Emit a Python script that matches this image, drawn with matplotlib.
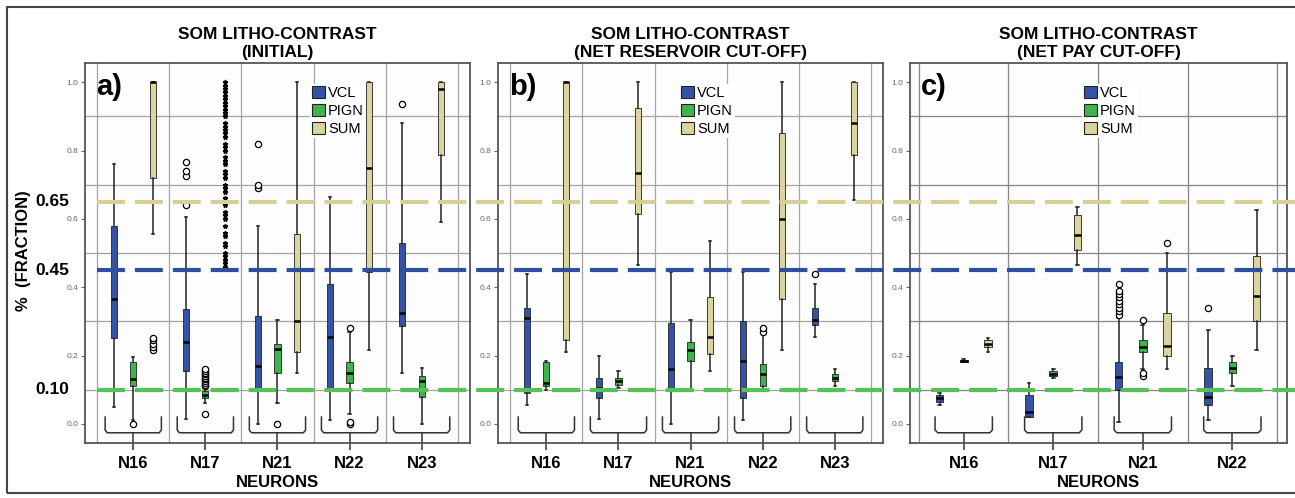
import matplotlib
matplotlib.use("Agg")
from matplotlib import pyplot as plt
from matplotlib import transforms
from matplotlib.lines import Line2D
from matplotlib.patches import Patch, Rectangle

plt.rcParams['font.family'] = 'Liberation Sans'

# --------------- datos leidos de la figura
# cada caja: [bigote bajo, q1, mediana, q3, bigote alto]

neuronas_ab = ["N16", "N17", "N21", "N22", "N23"]
neuronas_c = ["N16", "N17", "N21", "N22"]

titulos = ["SOM LITHO-CONTRAST\n(INITIAL)",
           "SOM LITHO-CONTRAST\n(NET RESERVOIR CUT-OFF)",
           "SOM LITHO-CONTRAST\n(NET PAY CUT-OFF)"]
letras = ["a)", "b)", "c)"]
variables = ["VCL", "PIGN", "SUM"]

# a) inicial
a_vcl = [[0.05, 0.25, 0.365, 0.58, 0.76], [0.015, 0.155, 0.24, 0.335, 0.605],
         [0.0, 0.10, 0.17, 0.315, 0.58], [0.01, 0.10, 0.255, 0.41, 0.665],
         [0.15, 0.285, 0.325, 0.53, 0.88]]
a_vcl_out = [[], [0.64, 0.725, 0.74, 0.765], [0.69, 0.70, 0.82], [], [0.935]]
a_pign = [[0.01, 0.11, 0.13, 0.18, 0.195], [0.06, 0.075, 0.085, 0.095, 0.105],
          [0.06, 0.15, 0.22, 0.235, 0.305], [0.03, 0.12, 0.15, 0.18, 0.27],
          [0.0, 0.08, 0.125, 0.14, 0.165]]
a_pign_out = [[0.0], [0.03, 0.11, 0.115, 0.12, 0.125, 0.13, 0.135, 0.14, 0.145, 0.15, 0.155, 0.16],
              [0.0], [0.0, 0.005, 0.28], []]
a_sum = [[0.555, 0.72, 1.0, 1.0, 1.0], None,
         [0.15, 0.21, 0.30, 0.555, 1.0], [0.215, 0.445, 0.75, 1.0, 1.0],
         [0.59, 0.787, 0.98, 1.0, 1.0]]
a_sum_out = [[0.215, 0.225, 0.235, 0.245, 0.25], [], [], [], []]
# N17 SUM en a) solo muestra valores extremos (asteriscos)
a_sum_n17 = [0.46, 0.47, 0.48, 0.49, 0.50, 0.52, 0.53, 0.55, 0.56, 0.58, 0.60, 0.61,
             0.62, 0.64, 0.65, 0.66, 0.68, 0.69, 0.70, 0.72, 0.73, 0.74, 0.76, 0.77,
             0.78, 0.80, 0.81, 0.82, 0.84, 0.85, 0.86, 0.87, 0.88, 0.90, 0.91, 0.92,
             0.93, 0.94, 0.95, 0.96, 0.97, 0.98, 0.99, 1.0]

# b) corte de reservorio
b_vcl = [[0.055, 0.09, 0.31, 0.34, 0.44], [0.015, 0.075, 0.105, 0.135, 0.20],
         [0.0, 0.10, 0.16, 0.295, 0.445], [0.01, 0.075, 0.185, 0.30, 0.445],
         [0.255, 0.29, 0.305, 0.34, 0.41]]
b_vcl_out = [[], [], [], [], [0.44]]
b_pign = [[0.10, 0.11, 0.12, 0.18, 0.185], [0.105, 0.115, 0.125, 0.135, 0.155],
          [0.10, 0.185, 0.215, 0.24, 0.305], [0.10, 0.11, 0.145, 0.175, 0.26],
          [0.11, 0.125, 0.135, 0.145, 0.16]]
b_pign_out = [[], [], [], [0.27, 0.28], []]
b_sum = [[0.21, 0.245, 1.0, 1.0, 1.0], [0.465, 0.615, 0.735, 0.925, 1.0],
         [0.155, 0.205, 0.255, 0.37, 0.535], [0.215, 0.365, 0.60, 0.85, 1.0],
         [0.655, 0.787, 0.88, 1.0, 1.0]]
b_sum_out = [[], [], [], [], []]

# c) corte de pay
c_vcl = [[0.055, 0.065, 0.075, 0.085, 0.09], [0.02, 0.02, 0.035, 0.085, 0.12],
         [0.005, 0.10, 0.137, 0.18, 0.31], [0.01, 0.055, 0.08, 0.165, 0.275]]
c_vcl_out = [[], [], [0.32, 0.33, 0.34, 0.35, 0.36, 0.37, 0.38, 0.39, 0.41], [0.34]]
c_pign = [[0.18, 0.182, 0.185, 0.188, 0.19], [0.135, 0.14, 0.145, 0.155, 0.16],
          [0.16, 0.21, 0.225, 0.245, 0.29], [0.11, 0.15, 0.165, 0.18, 0.20]]
c_pign_out = [[], [], [0.14, 0.15, 0.305], []]
c_sum = [[0.21, 0.225, 0.235, 0.245, 0.25], [0.465, 0.51, 0.553, 0.61, 0.635],
         [0.16, 0.20, 0.228, 0.325, 0.50], [0.215, 0.30, 0.375, 0.49, 0.625]]
c_sum_out = [[], [], [0.53], []]

# cortes (lineas punteadas)
cortes = [0.65, 0.45, 0.10]
cortes_txt = ["0.65", "0.45", "0.10"]

# --------------- estilo
colores = {"VCL": "#3453a6", "PIGN": "#3fb44c", "SUM": "#dad59e"}
colores_corte = ["#d8cf96", "#2f4ea0", "#55c157"]
desplaz = [-0.27, 0.0, 0.27]
ancho_llave = [0.39, 0.39, 0.32]
gris_grid = "#a8a2a2"

paneles = [
    (neuronas_ab, [a_vcl, a_pign, a_sum], [a_vcl_out, a_pign_out, a_sum_out]),
    (neuronas_ab, [b_vcl, b_pign, b_sum], [b_vcl_out, b_pign_out, b_sum_out]),
    (neuronas_c, [c_vcl, c_pign, c_sum], [c_vcl_out, c_pign_out, c_sum_out]),
]

fig = plt.figure(figsize=(12.95, 4.98), dpi=100, facecolor="white")

posiciones_ax = [[0.0656, 0.1104, 0.2973, 0.763],
                 [0.3846, 0.1104, 0.2973, 0.763],
                 [0.7027, 0.1104, 0.2911, 0.763]]
limites_x = [(-0.67, 4.67), (-0.67, 4.67), (-0.6, 3.61)]
legend_x = [0.584, 0.47, 0.456]

ejes = []
for i, (neuronas, cajas, extremos) in enumerate(paneles):
    ax = fig.add_axes(posiciones_ax[i])
    ax.set_facecolor("#fdfdfd")
    n = len(neuronas)
    for j, var in enumerate(variables):
        stats = []
        pos = []
        for k in range(n):
            c = cajas[j][k]
            if c is None:
                continue
            stats.append({"whislo": c[0], "q1": c[1], "med": c[2], "q3": c[3],
                          "whishi": c[4], "fliers": extremos[j][k]})
            pos.append(k + desplaz[j])
        ax.bxp(stats, positions=pos, widths=0.085, patch_artist=True,
               capwidths=0.03,
               boxprops=dict(facecolor=colores[var], edgecolor="#222222", linewidth=0.6),
               medianprops=dict(color="black", linewidth=1.8),
               whiskerprops=dict(color="#222222", linewidth=1.1),
               capprops=dict(color="#222222", linewidth=1.1),
               flierprops=dict(marker="o", markersize=4.5, markerfacecolor="white",
                               markeredgecolor="black", markeredgewidth=0.9),
               manage_ticks=False, zorder=3)
    if i == 0:
        ax.plot([1 + desplaz[2]] * len(a_sum_n17), a_sum_n17, linestyle="none",
                marker="*", markersize=3.5, color="black", zorder=4)

    # llaves debajo de cada neurona
    w = ancho_llave[i]
    for k in range(n):
        xs = [k - w, k - w, k - w + 0.03, k + w - 0.03, k + w, k + w]
        ys = [0.02, -0.018, -0.026, -0.026, -0.018, 0.02]
        ax.plot(xs, ys, color="#333333", linewidth=1.1, zorder=2)
        ax.plot([k, k], [-0.026, -0.056], color="#333333", linewidth=1.1, zorder=2,
                clip_on=False)

    ax.set_xlim(*limites_x[i])
    ax.set_ylim(-0.056, 1.056)
    ax.set_xticks(range(n))
    ax.set_xticklabels(neuronas, fontsize=12, fontweight="bold")
    ax.set_xticks([k - 0.5 for k in range(n + 1)], minor=True)
    ax.set_yticks([0.0, 0.2, 0.4, 0.6, 0.8, 1.0])
    ax.set_yticklabels(["0.0", "0.2", "0.4", "0.6", "0.8", "1.0"], fontsize=6, color="#666666")
    ax.set_yticks([0.1, 0.3, 0.5, 0.7, 0.9], minor=True)
    ax.tick_params(axis="x", which="major", length=5, width=1.1, color="#333333", pad=4)
    ax.tick_params(axis="y", which="major", length=3, width=0.8, color="#666666", pad=2)
    ax.tick_params(which="minor", length=0)
    ax.grid(which="minor", color=gris_grid if i < 2 else "#8a8484", linewidth=0.9, zorder=0)
    ax.set_axisbelow(True)
    for s in ax.spines.values():
        s.set_color("#555555")
        s.set_linewidth(1.3)
    ax.set_xlabel("NEURONS", fontsize=12, fontweight="bold", labelpad=3)
    ax.set_title(titulos[i], fontsize=12.5, fontweight="bold", linespacing=1.3, pad=4)
    ax.text(0.03, 0.975, letras[i], transform=ax.transAxes, fontsize=21,
            fontweight="bold", ha="left", va="top")
    handles = [Patch(facecolor=colores[v], edgecolor="#222222", linewidth=0.8) for v in variables]
    ax.legend(handles, variables, loc="upper left", bbox_to_anchor=(legend_x[i], 0.945),
              borderaxespad=0, borderpad=0.15, frameon=True, facecolor="white",
              edgecolor="none", framealpha=1, fontsize=10.5, handlelength=0.9,
              handleheight=0.9, handletextpad=0.2, labelspacing=0.25)
    ejes.append(ax)

# lineas de corte a lo ancho de toda la figura
trans = transforms.blended_transform_factory(fig.transFigure, ejes[0].transData)
for y, txt, col in zip(cortes, cortes_txt, colores_corte):
    fig.add_artist(Line2D([0.075, 1.0], [y, y], transform=trans, color=col,
                          linewidth=3, linestyle=(0, (6.7, 2.4)), zorder=5))
    fig.text(0.027, y, txt, transform=trans, fontsize=12.5, fontweight="bold",
             ha="left", va="center")

fig.text(0.0185, 0.496, "%  (FRACTION)", rotation=90, fontsize=12, fontweight="bold",
         ha="center", va="center")

# marco exterior
fig.add_artist(Rectangle((0.0054, 0.01), 1.0, 0.976, transform=fig.transFigure,
                         fill=False, edgecolor="#444444", linewidth=1.5))

fig.savefig("out.png", dpi=100)
